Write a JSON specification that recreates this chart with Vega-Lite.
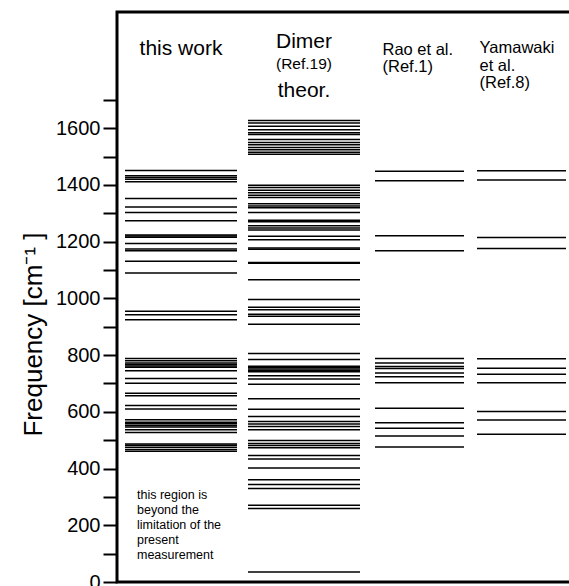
{
  "$schema": "https://vega.github.io/schema/vega-lite/v6.json",
  "width": 470,
  "height": 570,
  "autosize": {"type": "none"},
  "padding": {"left": 117, "top": 12, "right": 0, "bottom": 4},
  "background": "white",
  "config": {
    "view": {"stroke": "black", "strokeWidth": 3},
    "font": "Liberation Sans",
    "text": {"font": "Liberation Sans", "color": "black"}
  },
  "datasets": {
    "lines": [
      {"src": "this work", "k": 1, "f": 1451},
      {"src": "this work", "k": 1, "f": 1433},
      {"src": "this work", "k": 1, "f": 1426},
      {"src": "this work", "k": 1, "f": 1420},
      {"src": "this work", "k": 1, "f": 1411},
      {"src": "this work", "k": 1, "f": 1352},
      {"src": "this work", "k": 1, "f": 1322},
      {"src": "this work", "k": 1, "f": 1303},
      {"src": "this work", "k": 1, "f": 1274},
      {"src": "this work", "k": 1, "f": 1224},
      {"src": "this work", "k": 1, "f": 1220},
      {"src": "this work", "k": 1, "f": 1216},
      {"src": "this work", "k": 1, "f": 1194},
      {"src": "this work", "k": 1, "f": 1174},
      {"src": "this work", "k": 1, "f": 1168},
      {"src": "this work", "k": 1, "f": 1131},
      {"src": "this work", "k": 1, "f": 1090},
      {"src": "this work", "k": 1, "f": 955},
      {"src": "this work", "k": 1, "f": 942},
      {"src": "this work", "k": 1, "f": 925},
      {"src": "this work", "k": 1, "f": 788},
      {"src": "this work", "k": 1, "f": 780},
      {"src": "this work", "k": 1, "f": 772},
      {"src": "this work", "k": 1, "f": 767},
      {"src": "this work", "k": 1, "f": 762},
      {"src": "this work", "k": 1, "f": 757},
      {"src": "this work", "k": 1, "f": 745},
      {"src": "this work", "k": 1, "f": 718},
      {"src": "this work", "k": 1, "f": 701},
      {"src": "this work", "k": 1, "f": 666},
      {"src": "this work", "k": 1, "f": 657},
      {"src": "this work", "k": 1, "f": 622},
      {"src": "this work", "k": 1, "f": 610},
      {"src": "this work", "k": 1, "f": 572},
      {"src": "this work", "k": 1, "f": 563},
      {"src": "this work", "k": 1, "f": 558},
      {"src": "this work", "k": 1, "f": 552},
      {"src": "this work", "k": 1, "f": 547},
      {"src": "this work", "k": 1, "f": 537},
      {"src": "this work", "k": 1, "f": 527},
      {"src": "this work", "k": 1, "f": 487},
      {"src": "this work", "k": 1, "f": 482},
      {"src": "this work", "k": 1, "f": 475},
      {"src": "this work", "k": 1, "f": 467},
      {"src": "this work", "k": 1, "f": 461},
      {"src": "Dimer", "k": 2, "f": 1627},
      {"src": "Dimer", "k": 2, "f": 1619},
      {"src": "Dimer", "k": 2, "f": 1607},
      {"src": "Dimer", "k": 2, "f": 1595},
      {"src": "Dimer", "k": 2, "f": 1584},
      {"src": "Dimer", "k": 2, "f": 1578},
      {"src": "Dimer", "k": 2, "f": 1560},
      {"src": "Dimer", "k": 2, "f": 1550},
      {"src": "Dimer", "k": 2, "f": 1542},
      {"src": "Dimer", "k": 2, "f": 1532},
      {"src": "Dimer", "k": 2, "f": 1524},
      {"src": "Dimer", "k": 2, "f": 1515},
      {"src": "Dimer", "k": 2, "f": 1508},
      {"src": "Dimer", "k": 2, "f": 1399},
      {"src": "Dimer", "k": 2, "f": 1391},
      {"src": "Dimer", "k": 2, "f": 1381},
      {"src": "Dimer", "k": 2, "f": 1373},
      {"src": "Dimer", "k": 2, "f": 1364},
      {"src": "Dimer", "k": 2, "f": 1356},
      {"src": "Dimer", "k": 2, "f": 1334},
      {"src": "Dimer", "k": 2, "f": 1326},
      {"src": "Dimer", "k": 2, "f": 1320},
      {"src": "Dimer", "k": 2, "f": 1303},
      {"src": "Dimer", "k": 2, "f": 1276},
      {"src": "Dimer", "k": 2, "f": 1270},
      {"src": "Dimer", "k": 2, "f": 1256},
      {"src": "Dimer", "k": 2, "f": 1248},
      {"src": "Dimer", "k": 2, "f": 1241},
      {"src": "Dimer", "k": 2, "f": 1219},
      {"src": "Dimer", "k": 2, "f": 1207},
      {"src": "Dimer", "k": 2, "f": 1178},
      {"src": "Dimer", "k": 2, "f": 1173},
      {"src": "Dimer", "k": 2, "f": 1127},
      {"src": "Dimer", "k": 2, "f": 1124},
      {"src": "Dimer", "k": 2, "f": 1066},
      {"src": "Dimer", "k": 2, "f": 996},
      {"src": "Dimer", "k": 2, "f": 969},
      {"src": "Dimer", "k": 2, "f": 960},
      {"src": "Dimer", "k": 2, "f": 944},
      {"src": "Dimer", "k": 2, "f": 937},
      {"src": "Dimer", "k": 2, "f": 909},
      {"src": "Dimer", "k": 2, "f": 806},
      {"src": "Dimer", "k": 2, "f": 785},
      {"src": "Dimer", "k": 2, "f": 761},
      {"src": "Dimer", "k": 2, "f": 756},
      {"src": "Dimer", "k": 2, "f": 751},
      {"src": "Dimer", "k": 2, "f": 746},
      {"src": "Dimer", "k": 2, "f": 741},
      {"src": "Dimer", "k": 2, "f": 727},
      {"src": "Dimer", "k": 2, "f": 716},
      {"src": "Dimer", "k": 2, "f": 697},
      {"src": "Dimer", "k": 2, "f": 646},
      {"src": "Dimer", "k": 2, "f": 609},
      {"src": "Dimer", "k": 2, "f": 584},
      {"src": "Dimer", "k": 2, "f": 566},
      {"src": "Dimer", "k": 2, "f": 557},
      {"src": "Dimer", "k": 2, "f": 548},
      {"src": "Dimer", "k": 2, "f": 537},
      {"src": "Dimer", "k": 2, "f": 499},
      {"src": "Dimer", "k": 2, "f": 488},
      {"src": "Dimer", "k": 2, "f": 481},
      {"src": "Dimer", "k": 2, "f": 473},
      {"src": "Dimer", "k": 2, "f": 446},
      {"src": "Dimer", "k": 2, "f": 434},
      {"src": "Dimer", "k": 2, "f": 402},
      {"src": "Dimer", "k": 2, "f": 361},
      {"src": "Dimer", "k": 2, "f": 344},
      {"src": "Dimer", "k": 2, "f": 330},
      {"src": "Dimer", "k": 2, "f": 271},
      {"src": "Dimer", "k": 2, "f": 259},
      {"src": "Dimer", "k": 2, "f": 35},
      {"src": "Rao", "k": 3, "f": 1448},
      {"src": "Rao", "k": 3, "f": 1415},
      {"src": "Rao", "k": 3, "f": 1221},
      {"src": "Rao", "k": 3, "f": 1168},
      {"src": "Rao", "k": 3, "f": 788},
      {"src": "Rao", "k": 3, "f": 772},
      {"src": "Rao", "k": 3, "f": 760},
      {"src": "Rao", "k": 3, "f": 753},
      {"src": "Rao", "k": 3, "f": 737},
      {"src": "Rao", "k": 3, "f": 724},
      {"src": "Rao", "k": 3, "f": 703},
      {"src": "Rao", "k": 3, "f": 613},
      {"src": "Rao", "k": 3, "f": 562},
      {"src": "Rao", "k": 3, "f": 542},
      {"src": "Rao", "k": 3, "f": 515},
      {"src": "Rao", "k": 3, "f": 476},
      {"src": "Yamawaki", "k": 4, "f": 1450},
      {"src": "Yamawaki", "k": 4, "f": 1418},
      {"src": "Yamawaki", "k": 4, "f": 1215},
      {"src": "Yamawaki", "k": 4, "f": 1176},
      {"src": "Yamawaki", "k": 4, "f": 787},
      {"src": "Yamawaki", "k": 4, "f": 754},
      {"src": "Yamawaki", "k": 4, "f": 733},
      {"src": "Yamawaki", "k": 4, "f": 703},
      {"src": "Yamawaki", "k": 4, "f": 601},
      {"src": "Yamawaki", "k": 4, "f": 571},
      {"src": "Yamawaki", "k": 4, "f": 521}
    ],
    "bigLabels": [
      {"k": 1, "f": 1858, "t": "this work"},
      {"k": 2, "f": 1882, "t": "Dimer"},
      {"k": 2, "f": 1709, "t": "theor."}
    ],
    "refLabel": [
      {"k": 2, "f": 1808, "t": "(Ref.19)"}
    ],
    "raoLabels": [
      {"k": 3, "f": 1858, "t": "Rao et al."},
      {"k": 3, "f": 1798, "t": "(Ref.1)"}
    ],
    "yamLabels": [
      {"k": 4, "f": 1864, "t": "Yamawaki"},
      {"k": 4, "f": 1803, "t": "\u00a0et al."},
      {"k": 4, "f": 1743, "t": "(Ref.8)"}
    ],
    "note": [
      {"k": 1, "f": 292, "t": ["this region is", "beyond the", "limitation of the", "present", "measurement"]}
    ]
  },
  "encoding": {
    "x": {
      "field": "k",
      "type": "quantitative",
      "axis": null,
      "scale": {"domain": [1, 2, 3, 4], "range": [64, 187, 302.5, 404.5], "nice": false, "zero": false}
    },
    "y": {
      "field": "f",
      "type": "quantitative",
      "scale": {"domain": [0, 2010], "nice": false, "zero": false},
      "axis": {
        "title": "Frequency [cm\u207b\u00b9 ]",
        "titleFont": "Liberation Sans",
        "titleFontSize": 26,
        "titleFontWeight": "normal",
        "titleColor": "black",
        "titlePadding": 9,
        "titleY": 322,
        "values": [0, 100, 200, 300, 400, 500, 600, 700, 800, 900, 1000, 1100, 1200, 1300, 1400, 1500, 1600, 1700],
        "format": "d",
        "labelExpr": "datum.value % 200 === 0 ? datum.label : ''",
        "labelFont": "Liberation Sans",
        "labelFontSize": 20,
        "labelColor": "black",
        "labelPadding": 3,
        "tickSize": 14,
        "tickWidth": 2,
        "tickColor": "black",
        "domain": false,
        "grid": false,
        "labelOverlap": false
      }
    }
  },
  "layer": [
    {
      "data": {"name": "lines"},
      "mark": {"type": "tick", "orient": "horizontal", "thickness": 1.5, "color": "black", "opacity": 1},
      "encoding": {
        "size": {
          "field": "src",
          "type": "nominal",
          "scale": {"type": "ordinal", "domain": ["this work", "Dimer", "Rao", "Yamawaki"], "range": [112, 112, 89, 89]},
          "legend": null
        }
      }
    },
    {
      "data": {"name": "bigLabels"},
      "mark": {"type": "text", "fontSize": 21, "align": "center", "baseline": "alphabetic"},
      "encoding": {"text": {"field": "t"}}
    },
    {
      "data": {"name": "refLabel"},
      "mark": {"type": "text", "fontSize": 15.5, "align": "center", "baseline": "alphabetic"},
      "encoding": {"text": {"field": "t"}}
    },
    {
      "data": {"name": "raoLabels"},
      "mark": {"type": "text", "fontSize": 16.5, "align": "left", "baseline": "alphabetic", "dx": -37},
      "encoding": {"text": {"field": "t"}}
    },
    {
      "data": {"name": "yamLabels"},
      "mark": {"type": "text", "fontSize": 16.5, "align": "left", "baseline": "alphabetic", "dx": -42},
      "encoding": {"text": {"field": "t"}}
    },
    {
      "data": {"name": "note"},
      "mark": {"type": "text", "fontSize": 12.5, "align": "left", "baseline": "alphabetic", "dx": -44, "lineHeight": 15},
      "encoding": {"text": {"field": "t"}}
    }
  ]
}
